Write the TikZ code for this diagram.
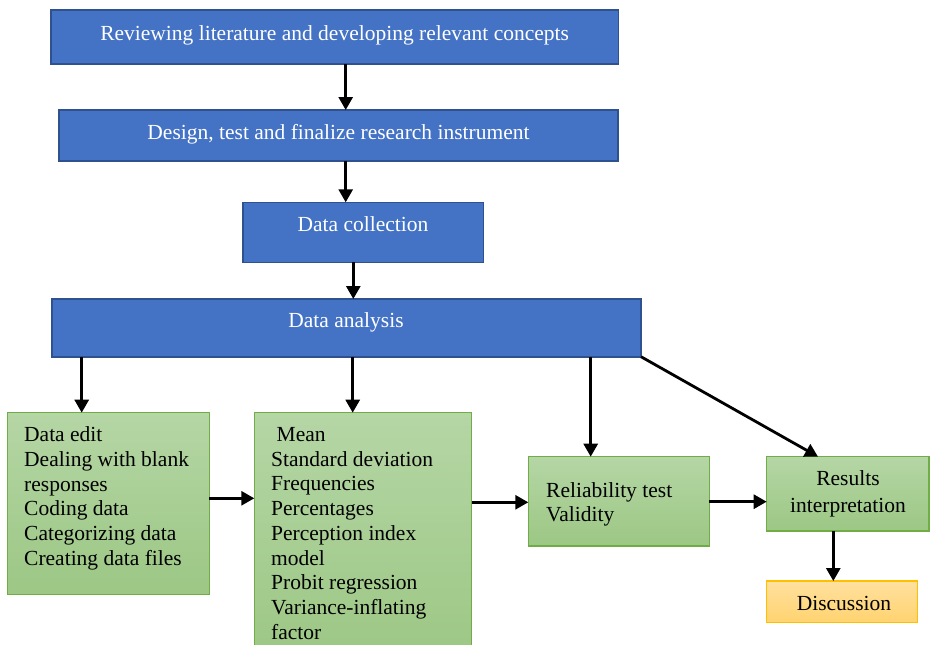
\documentclass[tikz,border=0pt]{standalone}
\usepackage{fontspec}
\setmainfont{Liberation Serif}
\usetikzlibrary{arrows.meta,calc}
\definecolor{bfill}{HTML}{4472C4}
\definecolor{bline}{HTML}{2F528F}
\definecolor{gtop}{HTML}{B5D6A5}
\definecolor{gbot}{HTML}{9CC784}
\definecolor{gline}{HTML}{70AD47}
\definecolor{otop}{HTML}{FFE09F}
\definecolor{obot}{HTML}{FFD36F}
\definecolor{oline}{HTML}{FFC000}
\begin{document}
\begin{tikzpicture}[x=1pt,y=-1pt,
 box/.style={rectangle, anchor=north west, inner sep=0pt, outer sep=0pt},
 bluebox/.style={box, fill=bfill, draw=bline, line width=1.6pt},
 greenbox/.style={box, top color=gtop, bottom color=gbot, draw=gline, line width=1.2pt},
 orangebox/.style={box, top color=otop, bottom color=obot, draw=oline, line width=1.2pt},
 wtext/.style={font=\fontsize{21.5}{24.7}\selectfont, text=white, inner sep=0pt, anchor=base},
 ktext/.style={font=\fontsize{21.5}{24.7}\selectfont, text=black, inner sep=0pt, align=left, anchor=base west},
 arr/.style={line width=2.8pt, -{Triangle[length=13pt,width=14pt]}}]
\useasboundingbox (0,0) rectangle (930,645);

% blue boxes
\node[bluebox, minimum width=567.3pt, minimum height=54pt] (b1) at (51,10) {};
\node[bluebox, minimum width=559pt, minimum height=50.7pt] (b2) at (59,110) {};
\node[bluebox, minimum width=240.6pt, minimum height=60pt] (b3) at (242.7,202.3) {};
\node[bluebox, minimum width=589.3pt, minimum height=57.7pt] (b4) at (51.7,299) {};

\node[wtext] (t1) at (334.6,40) {Reviewing literature and developing relevant concepts};
\node[wtext] (t2) at (338.5,139) {Design, test and finalize research instrument};
\node[wtext] (t3) at (363,231.7) {Data collection};
\node[wtext] (t4) at (346,327.7) {Data analysis};

% green boxes
\node[greenbox, minimum width=202pt, minimum height=181.6pt] (gA) at (7.3,412.7) {};
\node[greenbox, minimum width=217.4pt, minimum height=250pt] (gB) at (254.3,412.7) {};
\node[greenbox, minimum width=181pt, minimum height=89.3pt] (gC) at (528.3,456.7) {};
\node[greenbox, minimum width=162.3pt, minimum height=74.3pt] (gD) at (766.7,456.7) {};
\node[orangebox, minimum width=150.6pt, minimum height=41.7pt] (gE) at (766.7,581) {};

% multi-line texts: anchor base = baseline of the last line
\node[ktext] (tA) at (24,565.2) {Data edit\\Dealing with blank\\responses\\Coding data\\Categorizing data\\Creating data files};
\node[ktext] (tB) at (271,639.1) {\hspace*{5.5pt}Mean\\Standard deviation\\Frequencies\\Percentages\\Perception index\\model\\Probit regression\\Variance-inflating\\factor};
\node[ktext] (tC) at (546,521.7) {Reliability test\\Validity};
\node[ktext, align=center, anchor=base, font=\fontsize{21.5}{26.5}\selectfont] (tD) at (848,512) {Results\\interpretation};
\node[ktext, anchor=base] (tE) at (844,610) {Discussion};

% connectors
\draw[arr] (345.7,0 |- b1.south) -- (345.7,0 |- b2.north);
\draw[arr] (345.7,0 |- b2.south) -- (345.7,0 |- b3.north);
\draw[arr] (353.3,0 |- b3.south) -- (353.3,0 |- b4.north);
\draw[arr] (81.7,0 |- b4.south) -- (81.7,0 |- gA.north);
\draw[arr] (352.7,0 |- b4.south) -- (352.7,0 |- gB.north);
\draw[arr] (590.7,0 |- b4.south) -- (590.7,0 |- gC.north);
\draw[arr] (b4.south east) -- (818,0 |- gD.north);
\draw[arr] (gA.east |- 0,498.3) -- (gB.west |- 0,498.3);
\draw[arr] (gB.east |- 0,502.3) -- (gC.west |- 0,502.3);
\draw[arr] (gC.east |- 0,501.7) -- (gD.west |- 0,501.7);
\draw[arr] (833.3,0 |- gD.south) -- (833.3,0 |- gE.north);
\end{tikzpicture}
\end{document}
